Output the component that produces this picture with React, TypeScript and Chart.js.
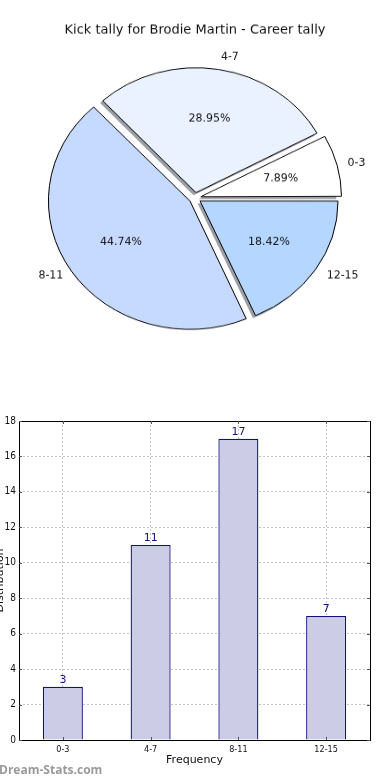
import React, { useEffect, useRef } from "react";
import { Chart, registerables } from "chart.js";

Chart.register(...registerables);

const categories = ["0-3", "4-7", "8-11", "12-15"];
const counts = [3, 11, 17, 7];
const percentLabels = ["7.89%", "28.95%", "44.74%", "18.42%"];
const pieColors = ["#ffffff", "#eaf2ff", "#c6d9ff", "#b4d6ff"];
const yTicks = [0, 2, 4, 6, 8, 10, 12, 14, 16, 18];
const pieTitle = "Kick tally for Brodie Martin - Career tally";
const barXTitle = "Frequency";
const barYTitle = "Distribution";
const watermark = "Dream-Stats.com";

const S = 0.907; // vertical squash of the pie (elliptical look)
const PIE_W = 390;
const PIE_H = 400;
const BAR_H = 380;
const BAR_TOP = 400;
const FONT = '"DejaVu Sans", sans-serif';
const COND = '"DejaVu Sans Condensed", "Liberation Sans Narrow", "DejaVu Sans", sans-serif';

// reversed order so the slices run counter-clockwise from 3 o'clock
const pieLabels = [...categories].reverse();
const pieData = [...counts].reverse();
const piePct = [...percentLabels].reverse();
const pieBg = [...pieColors].reverse();

const pieDecor = {
  id: "pieDecor",
  beforeDatasetsDraw(chart: any) {
    const ctx = chart.ctx;
    const meta = chart.getDatasetMeta(0);
    ctx.save();
    ctx.fillStyle = "rgba(60,64,78,0.5)";
    meta.data.forEach((arc: any) => {
      const p = arc.getProps(["x", "y", "startAngle", "endAngle", "outerRadius"], true);
      const off = (arc.options.offset || 0) / 4;
      const mid = (p.startAngle + p.endAngle) / 2;
      const cx = p.x + Math.cos(mid) * off - 2.5;
      const cy = p.y + Math.sin(mid) * off + 2.5 / S;
      ctx.beginPath();
      ctx.moveTo(cx, cy);
      ctx.arc(cx, cy, p.outerRadius + 0.5, p.startAngle, p.endAngle);
      ctx.closePath();
      ctx.fill();
    });
    ctx.restore();
  },
  afterDatasetsDraw(chart: any) {
    const ctx = chart.ctx;
    const meta = chart.getDatasetMeta(0);
    const drawText = (t: string, x: number, y: number, align: string, font: string) => {
      ctx.save();
      ctx.translate(x, y);
      ctx.scale(1, 1 / S);
      ctx.font = font;
      ctx.fillStyle = "#111";
      ctx.textAlign = align;
      ctx.textBaseline = "middle";
      ctx.fillText(t, 0, 0);
      ctx.restore();
    };
    meta.data.forEach((arc: any, i: number) => {
      const p = arc.getProps(["x", "y", "startAngle", "endAngle", "outerRadius"], true);
      const off = (arc.options.offset || 0) / 4;
      const mid = (p.startAngle + p.endAngle) / 2;
      const cx = p.x + Math.cos(mid) * off;
      const cy = p.y + Math.sin(mid) * off;
      const r = p.outerRadius;
      const lx = cx + Math.cos(mid) * r * 1.1;
      const ly = cy + Math.sin(mid) * r * 1.1;
      drawText(pieLabels[i], lx, ly, Math.cos(mid) >= 0 ? "left" : "right", `11px ${FONT}`);
      const px = cx + Math.cos(mid) * r * 0.6;
      const py = cy + Math.sin(mid) * r * 0.6;
      drawText(piePct[i], px, py, "center", `11px ${FONT}`);
    });
    drawText(pieTitle, PIE_W / 2, 30 / S, "center", `13px ${FONT}`);
  },
};

const barDecor = {
  id: "barDecor",
  afterDatasetsDraw(chart: any) {
    const ctx = chart.ctx;
    const a = chart.chartArea;
    ctx.save();
    ctx.strokeStyle = "#000";
    ctx.lineWidth = 1;
    ctx.strokeRect(Math.round(a.left) + 0.5, Math.round(a.top) + 0.5, Math.round(a.right - a.left), Math.round(a.bottom - a.top));
    // inward tick marks
    ctx.strokeStyle = "#555";
    const ys = chart.scales.y;
    yTicks.forEach((v) => {
      const y = Math.round(ys.getPixelForValue(v)) + 0.5;
      ctx.beginPath();
      ctx.moveTo(a.left, y);
      ctx.lineTo(a.left + 3, y);
      ctx.moveTo(a.right, y);
      ctx.lineTo(a.right - 3, y);
      ctx.stroke();
    });
    const xs = chart.scales.x;
    categories.forEach((_, i) => {
      const x = Math.round(xs.getPixelForValue(i)) + 0.5;
      ctx.beginPath();
      ctx.moveTo(x, a.bottom);
      ctx.lineTo(x, a.bottom - 3);
      ctx.moveTo(x, a.top);
      ctx.lineTo(x, a.top + 3);
      ctx.stroke();
    });
    // value labels
    const meta = chart.getDatasetMeta(0);
    ctx.fillStyle = "#14147a";
    ctx.font = `11px ${FONT}`;
    ctx.textAlign = "center";
    ctx.textBaseline = "bottom";
    meta.data.forEach((bar: any, i: number) => {
      ctx.fillText(String(counts[i]), bar.x, bar.y - 1);
    });
    // y axis title (clipped at the left edge)
    ctx.fillStyle = "#111";
    ctx.font = `11px ${FONT}`;
    ctx.translate(3, (a.top + a.bottom) / 2);
    ctx.rotate(-Math.PI / 2);
    ctx.textAlign = "center";
    ctx.textBaseline = "alphabetic";
    ctx.fillText(barYTitle, 0, 0);
    ctx.restore();
  },
};

export default function App() {
  const pieRef = useRef<HTMLCanvasElement>(null);
  const barRef = useRef<HTMLCanvasElement>(null);

  useEffect(() => {
    const pie = new Chart(pieRef.current as HTMLCanvasElement, {
      type: "pie",
      data: {
        labels: pieLabels,
        datasets: [
          {
            data: pieData,
            backgroundColor: pieBg,
            borderColor: "#000",
            borderWidth: 1,
            offset: 24,
          },
        ],
      },
      options: {
        responsive: false,
        animation: false,
        rotation: 90,
        radius: 137.5,
        layout: { padding: { top: 40, bottom: 3.4, left: 0, right: 0 } },
        plugins: { legend: { display: false }, tooltip: { enabled: false }, title: { display: false } },
      } as any,
      plugins: [pieDecor],
    });

    const bar = new Chart(barRef.current as HTMLCanvasElement, {
      type: "bar",
      data: {
        labels: categories,
        datasets: [
          {
            data: counts,
            backgroundColor: "#ccccE6",
            borderColor: "#10107e",
            borderWidth: 1.3,
            barPercentage: 0.456,
            categoryPercentage: 1,
          },
        ],
      },
      options: {
        responsive: false,
        animation: false,
        layout: { padding: { top: 21, right: 20, left: 0, bottom: 0 } },
        plugins: { legend: { display: false }, tooltip: { enabled: false } },
        scales: {
          x: {
            grid: { offset: false, color: "#c4c4c4", drawTicks: false, tickLength: 0 },
            border: { display: false, dash: [2, 2] },
            ticks: { color: "#111", font: { size: 9, family: COND }, padding: 4, maxRotation: 0 },
            title: {
              display: true,
              text: barXTitle,
              color: "#111",
              font: { size: 11, family: FONT },
              padding: { top: 0, bottom: 13 },
            },
            afterFit: (s: any) => {
              s.height = 40;
            },
          },
          y: {
            min: 0,
            max: 18,
            ticks: { stepSize: 2, color: "#111", font: { size: 10, family: COND }, padding: 3 },
            grid: { color: "#c4c4c4", drawTicks: false, tickLength: 0 },
            border: { display: false, dash: [2, 2] },
            afterFit: (s: any) => {
              s.width = 19;
            },
          },
        },
      } as any,
      plugins: [barDecor],
    });

    return () => {
      pie.destroy();
      bar.destroy();
    };
  }, []);

  return (
    <div
      style={{
        position: "absolute",
        left: 0,
        top: 0,
        width: 390,
        height: 780,
        overflow: "hidden",
        background: "#fff",
      }}
    >
      <div
        style={{
          position: "absolute",
          left: 0,
          top: 0,
          width: PIE_W,
          height: PIE_H,
          transform: `scaleY(${S})`,
          transformOrigin: "0 0",
        }}
      >
        <canvas ref={pieRef} width={PIE_W} height={PIE_H} style={{ width: PIE_W, height: PIE_H }} />
      </div>
      <canvas
        ref={barRef}
        width={390}
        height={BAR_H}
        style={{ position: "absolute", left: 0, top: BAR_TOP, width: 390, height: BAR_H }}
      />
      <div
        style={{
          position: "absolute",
          left: -1,
          top: 761,
          fontFamily: '"Open Sans", "DejaVu Sans", sans-serif',
          fontWeight: 700,
          fontSize: 12,
          color: "#9a9a9a",
          whiteSpace: "nowrap",
        }}
      >
        {watermark}
      </div>
    </div>
  );
}
